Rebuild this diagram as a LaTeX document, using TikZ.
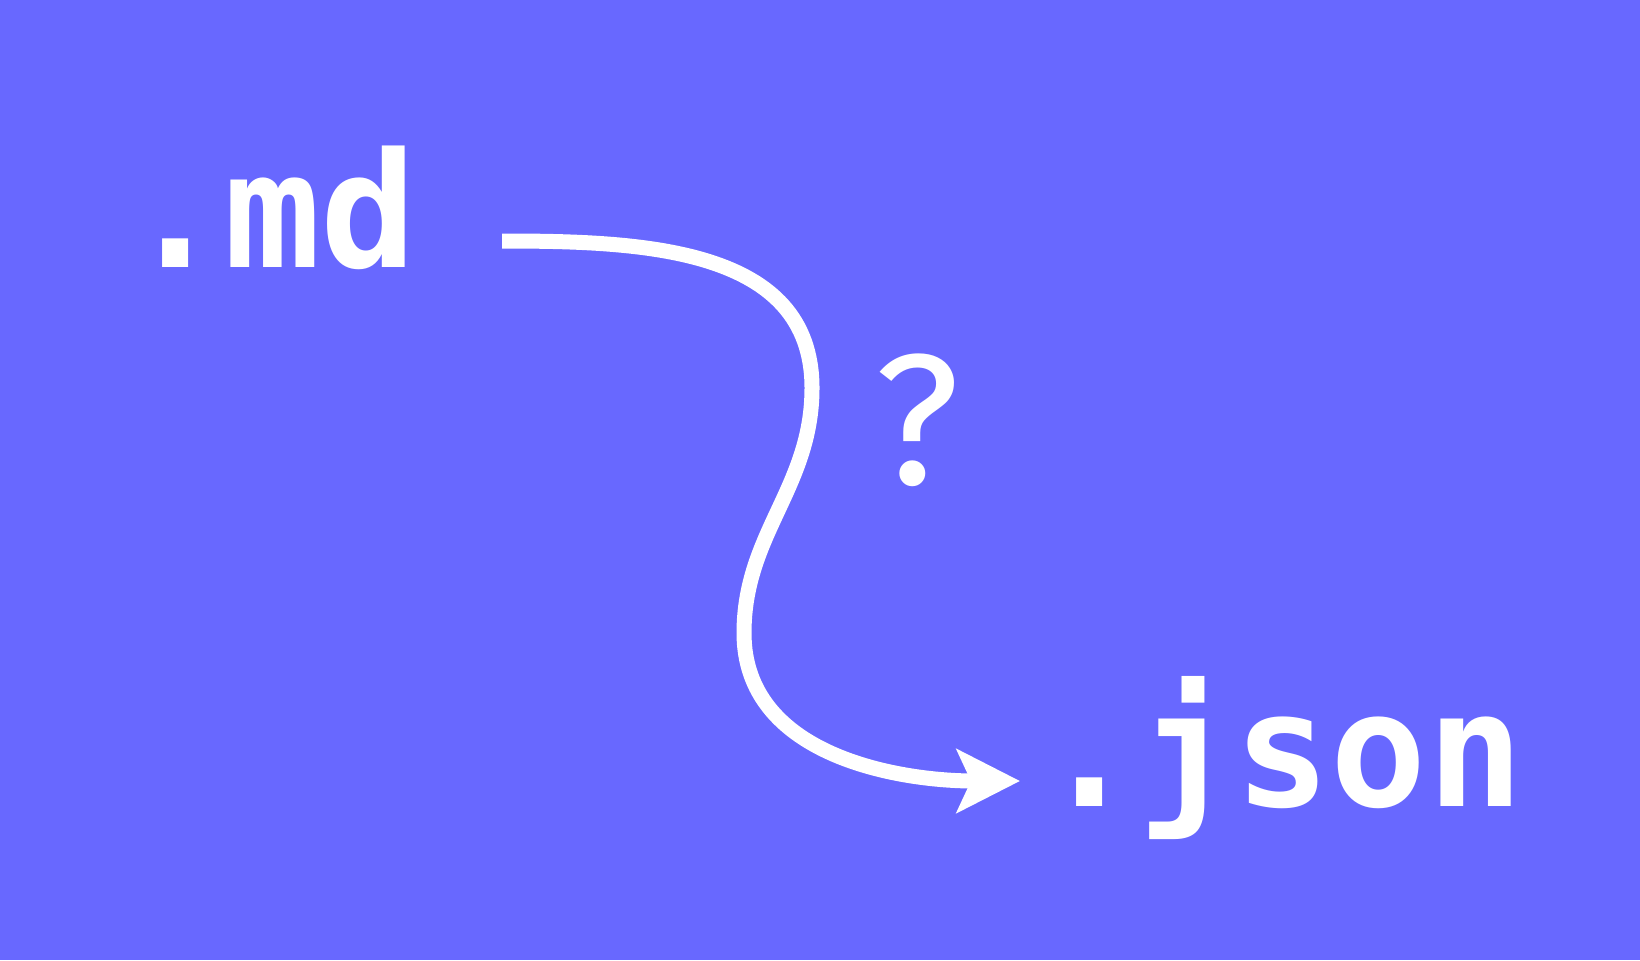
\documentclass[tikz,border=0pt]{standalone}
\usepackage{fontspec}
\newfontfamily\codefont{DejaVu Sans Mono}
\newfontfamily\askfont{Fira Sans}
\usetikzlibrary{arrows.meta}
\definecolor{bgblue}{HTML}{6868FF}

\begin{document}
\begin{tikzpicture}[x = 0.01cm, y = -0.01cm]
\tikzstyle{extStyle} = [text = white, inner sep = 0pt, anchor = base west, font = \codefont\bfseries\fontsize{45.5}{50}\selectfont]
\tikzstyle{askStyle} = [text = white, inner sep = 0pt, anchor = base, font = \askfont\fontsize{53}{58}\selectfont]
\tikzstyle{linkStyle} = [draw = white, line width = 0.15cm, -{Stealth[length = 0.63cm, width = 0.63cm, inset = 0.14cm]}]
\fill[bgblue] (0,0) rectangle (1640,960);
\useasboundingbox (0,0) rectangle (1640,960);
% file types
\node[extStyle] (md) at (127,267) {.md};
\node[extStyle] (json) at (1041,806) {.json};
\node[askStyle] (ask) at (917,484) {?};
% the winding arrow
\coordinate (from) at (502,241);
\coordinate (bend) at (812,388);
\coordinate (dip) at (744,633);
\coordinate (to) at (1020,781);
\draw[linkStyle] (from) to[out = 0, in = 90, looseness = 1.05] (bend)
  to[out = -90, in = 90] (dip)
  to[out = -90, in = 180] (to);
\end{tikzpicture}
\end{document}
